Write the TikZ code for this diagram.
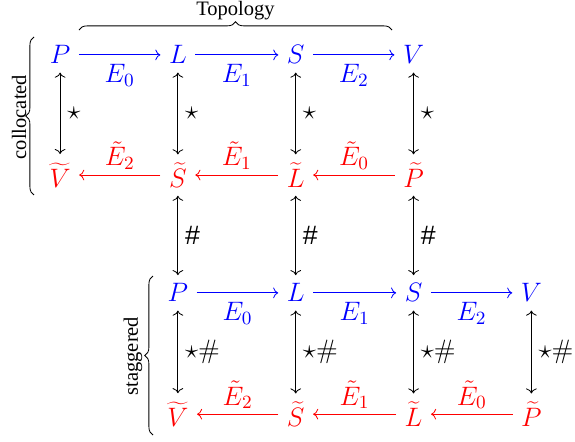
\RequirePackage{fix-cm}
\documentclass[tikz,border=0pt]{standalone}
\usepackage[no-math]{fontspec}
\setmainfont{Liberation Serif}
\setsansfont{Liberation Sans}
\usetikzlibrary{arrows.meta,decorations.pathreplacing}
\definecolor{primblue}{RGB}{0,0,255}
\definecolor{dualred}{RGB}{255,0,0}
\tikzset{
  >=To,
  mathfont/.style={font=\fontsize{13}{15.6}\selectfont},
  vtx/.style={mathfont,inner sep=4pt},
  prim/.style={vtx,text=primblue},
  dual/.style={vtx,text=dualred},
  primflow/.style={->,draw=primblue},
  dualflow/.style={->,draw=dualred},
  hodge/.style={<->,draw=black},
  primlbl/.style={mathfont,text=primblue,below=1pt},
  duallbl/.style={mathfont,text=dualred,above=-1pt},
  oplbl/.style={mathfont,right},
  grp/.style={decorate,decoration={brace,amplitude=4pt},line width=0.4pt},
  grplbl/.style={font=\rmfamily\fontsize{10}{12}\selectfont},
}

\begin{document}
\begin{tikzpicture}
  \useasboundingbox (0,0) rectangle (9.858,7.561);

  % collocated: primal row and dual row
  \node[prim] (P1) at (1.03,6.62) {$P$};
  \node[prim] (L1) at (3.05,6.62) {$L$};
  \node[prim] (S1) at (5.07,6.62) {$S$};
  \node[prim] (V1) at (7.09,6.62) {$V$};
  \node[dual] (V2) at (1.03,4.56) {$\widetilde{V}$};
  \node[dual] (S2) at (3.05,4.56) {$\widetilde{S}$};
  \node[dual] (L2) at (5.07,4.56) {$\widetilde{L}$};
  \node[dual] (P2) at (7.09,4.56) {$\widetilde{P}$};

  % staggered: shifted one column
  \node[prim] (P3) at (3.05,2.54) {$P$};
  \node[prim] (L3) at (5.07,2.54) {$L$};
  \node[prim] (S3) at (7.09,2.54) {$S$};
  \node[prim] (V3) at (9.11,2.54) {$V$};
  \node[dual] (V4) at (3.05,0.46) {$\widetilde{V}$};
  \node[dual] (S4) at (5.07,0.46) {$\widetilde{S}$};
  \node[dual] (L4) at (7.09,0.46) {$\widetilde{L}$};
  \node[dual] (P4) at (9.11,0.46) {$\widetilde{P}$};

  % exterior derivatives
  \draw[primflow] (P1) -- node[primlbl]{$E_0$} (L1);
  \draw[primflow] (L1) -- node[primlbl]{$E_1$} (S1);
  \draw[primflow] (S1) -- node[primlbl]{$E_2$} (V1);
  \draw[dualflow] (P2) -- node[duallbl]{$\tilde{E}_0$} (L2);
  \draw[dualflow] (L2) -- node[duallbl]{$\tilde{E}_1$} (S2);
  \draw[dualflow] (S2) -- node[duallbl]{$\tilde{E}_2$} (V2);
  \draw[primflow] (P3) -- node[primlbl]{$E_0$} (L3);
  \draw[primflow] (L3) -- node[primlbl]{$E_1$} (S3);
  \draw[primflow] (S3) -- node[primlbl]{$E_2$} (V3);
  \draw[dualflow] (P4) -- node[duallbl]{$\tilde{E}_0$} (L4);
  \draw[dualflow] (L4) -- node[duallbl]{$\tilde{E}_1$} (S4);
  \draw[dualflow] (S4) -- node[duallbl]{$\tilde{E}_2$} (V4);

  % Hodge stars
  \draw[hodge] (P1) -- node[oplbl]{$\star$} (V2);
  \draw[hodge] (L1) -- node[oplbl]{$\star$} (S2);
  \draw[hodge] (S1) -- node[oplbl]{$\star$} (L2);
  \draw[hodge] (V1) -- node[oplbl]{$\star$} (P2);
  \draw[hodge] (S2) -- node[oplbl]{\sffamily\#} (P3);
  \draw[hodge] (L2) -- node[oplbl]{\sffamily\#} (L3);
  \draw[hodge] (P2) -- node[oplbl]{\sffamily\#} (S3);
  \draw[hodge] (P3) -- node[oplbl]{$\star\#$} (V4);
  \draw[hodge] (L3) -- node[oplbl]{$\star\#$} (S4);
  \draw[hodge] (S3) -- node[oplbl]{$\star\#$} (L4);
  \draw[hodge] (V3) -- node[oplbl]{$\star\#$} (P4);

  % groupings
  \draw[grp] (1.354,7.047) -- node[grplbl,midway,above=1.5pt] (topo) {Topology} (6.721,7.047);
  \draw[grp] (0.583,4.218) -- (0.583,6.927);
  \node[grplbl,rotate=90] (colloc) at (0.326,5.555) {collocated};
  \draw[grp] (2.623,0.103) -- (2.623,2.829);
  \node[grplbl,rotate=90] (stagg) at (2.28,1.457) {staggered};
\end{tikzpicture}
\end{document}
